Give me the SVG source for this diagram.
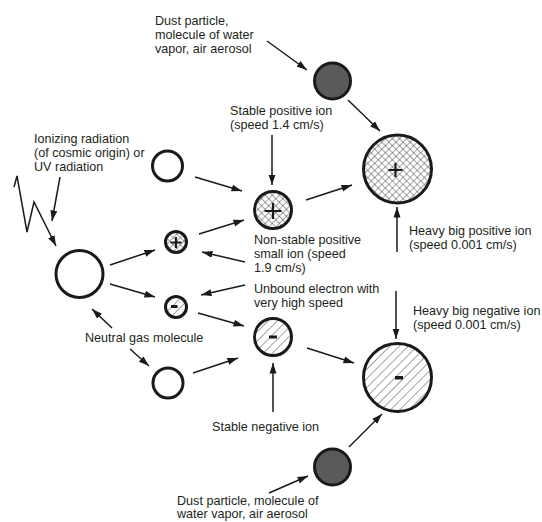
<svg xmlns="http://www.w3.org/2000/svg" width="542" height="522" viewBox="0 0 542 522">
<style>
text{font-family:"Liberation Sans",Arial,sans-serif;font-size:12.6px;fill:#231f20}
.c{stroke:#1a1a1a;stroke-width:3}
.n{fill:#fff}
.d{fill:#5a5a5a}
.p{fill:url(#xh)}
.m{fill:url(#hh)}
.sg{stroke:#1a1a1a;stroke-width:2.2;fill:none}
.mn{fill:#1a1a1a}
#conn line,#conn path{stroke:#1a1a1a;stroke-width:1.5;fill:none;marker-end:url(#ah)}
</style>
<defs>
<pattern id="xh" patternUnits="userSpaceOnUse" width="5" height="5" patternTransform="rotate(45)">
<rect width="5" height="5" fill="#fff"/>
<path d="M0,0V5M0,0H5" stroke="#2a2a2a" stroke-width="0.85"/>
</pattern>
<pattern id="hh" patternUnits="userSpaceOnUse" width="6.5" height="6.5" patternTransform="rotate(45)">
<rect width="6.5" height="6.5" fill="#fff"/>
<path d="M0,0V6.5" stroke="#2a2a2a" stroke-width="0.85"/>
</pattern>
<marker id="ah" markerUnits="userSpaceOnUse" markerWidth="11" markerHeight="8" refX="10.5" refY="4" orient="auto">
<path d="M0,0.5L10.5,4L0,7.5z" fill="#1a1a1a"/>
</marker>
</defs>

<g id="conn">
<line x1="267" y1="41" x2="307" y2="70"/>
<line x1="348" y1="100" x2="380" y2="131"/>
<line x1="272" y1="135" x2="272" y2="185"/>
<line x1="306" y1="200" x2="352" y2="185"/>
<line x1="397" y1="252" x2="397" y2="207"/>
<line x1="195" y1="177" x2="242" y2="191"/>
<line x1="60" y1="177" x2="52" y2="221"/>
<path d="M14,187L17,176L27,232L34,202L56,246"/>
<line x1="110" y1="265" x2="155" y2="250"/>
<line x1="110" y1="284" x2="155" y2="297"/>
<line x1="199" y1="234" x2="244" y2="220"/>
<line x1="245" y1="262" x2="202" y2="252"/>
<line x1="245" y1="285" x2="201" y2="295"/>
<line x1="198" y1="313" x2="244" y2="326"/>
<line x1="112" y1="328" x2="92" y2="309"/>
<line x1="130" y1="349" x2="149" y2="366"/>
<line x1="193" y1="373" x2="238" y2="358"/>
<line x1="273" y1="412" x2="273" y2="363"/>
<line x1="307" y1="348" x2="354" y2="363"/>
<line x1="396" y1="291" x2="396" y2="339"/>
<line x1="349" y1="447" x2="382" y2="414"/>
<line x1="269" y1="493" x2="308" y2="476"/>
</g>

<g id="dust-top"><circle class="c d" cx="332.5" cy="81" r="18"/></g>
<g id="big-positive"><circle class="c p" cx="397.5" cy="169" r="34"/><path class="sg" d="M388.5,170H402.5M395.5,163V177"/></g>
<g id="stable-positive"><circle class="c p" cx="273" cy="210" r="18.5"/><path class="sg" d="M264.5,211H281.5M273,203V219" stroke-width="2.6"/></g>
<g id="neutral-top"><circle class="c n" cx="167.5" cy="166" r="15"/></g>
<g id="neutral-big"><circle class="c n" cx="79.5" cy="274" r="23.5"/></g>
<g id="small-positive"><circle class="c p" cx="176" cy="242" r="10.5"/><path class="sg" d="M170.5,242.5H181.5M176,237V248" stroke-width="2"/></g>
<g id="small-negative"><circle class="c m" cx="176" cy="307" r="10.5"/><rect class="mn" x="171" y="305" width="6.5" height="3"/></g>
<g id="stable-negative"><circle class="c m" cx="273" cy="337" r="18.5"/><rect class="mn" x="269" y="335.5" width="8" height="3"/></g>
<g id="neutral-bottom"><circle class="c n" cx="168" cy="383" r="15"/></g>
<g id="big-negative"><circle class="c m" cx="397.5" cy="377.5" r="34"/><rect class="mn" x="395" y="376" width="8" height="3.5"/></g>
<g id="dust-bottom"><circle class="c d" cx="332.5" cy="467" r="18"/></g>

<g id="labels">
<text x="155" y="25">Dust particle,</text>
<text x="155" y="39">molecule of water</text>
<text x="155" y="53">vapor, air aerosol</text>
<text x="230" y="115">Stable positive ion</text>
<text x="230" y="129">(speed 1.4 cm/s)</text>
<text x="34" y="143">Ionizing radiation</text>
<text x="34" y="157">(of cosmic origin) or</text>
<text x="34" y="171">UV radiation</text>
<text x="254" y="244">Non-stable positive</text>
<text x="254" y="258">small ion (speed</text>
<text x="254" y="272">1.9 cm/s)</text>
<text x="254" y="293">Unbound electron with</text>
<text x="254" y="307">very high speed</text>
<text x="409" y="235">Heavy big positive ion</text>
<text x="409" y="249">(speed 0.001 cm/s)</text>
<text x="413" y="315">Heavy big negative ion</text>
<text x="413" y="329">(speed 0.001 cm/s)</text>
<text x="85" y="342">Neutral gas molecule</text>
<text x="212" y="431">Stable negative ion</text>
<text x="177" y="505">Dust particle, molecule of</text>
<text x="177" y="518">water vapor, air aerosol</text>
</g>
</svg>
